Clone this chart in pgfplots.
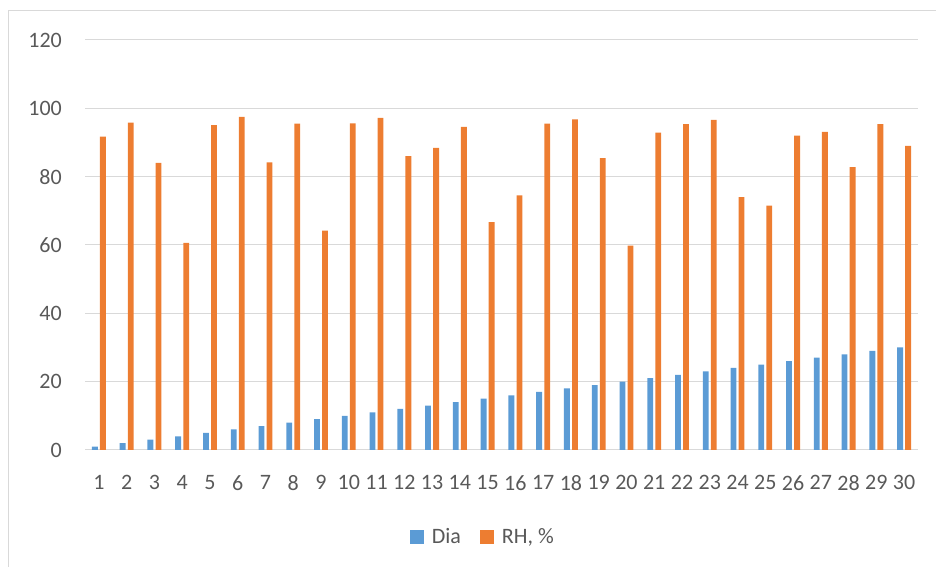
\documentclass[border=0pt]{standalone}
\usepackage{fontspec}
\setmainfont{Carlito}
\usepackage{pgfplots}
\usepackage{pgfplotstable}
\pgfplotsset{compat=1.18}

\definecolor{dia}{HTML}{5B9BD5}
\definecolor{rh}{HTML}{ED7D31}
\definecolor{gridc}{HTML}{D9D9D9}
\definecolor{txt}{HTML}{595959}

% day, Dia, RH %
\pgfplotstableread{
day dia rh
1  1  91.7
2  2  95.8
3  3  84.0
4  4  60.6
5  5  95.1
6  6  97.5
7  7  84.2
8  8  95.5
9  9  64.2
10 10 95.6
11 11 97.2
12 12 86.0
13 13 88.4
14 14 94.6
15 15 66.7
16 16 74.5
17 17 95.5
18 18 96.8
19 19 85.4
20 20 59.8
21 21 92.9
22 22 95.4
23 23 96.6
24 24 74.0
25 25 71.5
26 26 92.0
27 27 93.1
28 28 82.8
29 29 95.4
30 30 89.0
}\rhdata

\begin{document}
\begin{tikzpicture}[x=1bp,y=1bp]
\path[use as bounding box] (0,0) rectangle (936,567);
\draw[gridc, line width=1bp] (8.5,0) -- (8.5,556.5) -- (936,556.5);
\begin{axis}[
    at={(85bp,117bp)}, anchor=south west,
    scale only axis,
    width=833bp, height=410bp,
    xmin=0.5, xmax=30.5,
    ymin=0, ymax=120,
    xtick={1,...,30},
    ytick={0,20,...,120},
    ymajorgrids,
    grid style={gridc, line width=1bp},
    axis line style={draw=none},
    tick style={draw=none},
    /pgf/number format/assume math mode=true,
    tick label style={font=\fontsize{22bp}{26bp}\selectfont, text=txt, inner sep=0pt},
    yticklabel style={xshift=-23bp},
    xticklabel style={yshift=-25bp},
    legend style={at={(0.4775,-0.212)}, anchor=center, draw=none,
        font=\fontsize{22bp}{26bp}\selectfont, text=txt,
        legend columns=2,
        /tikz/every odd column/.append style={column sep=6bp},
        /tikz/every even column/.append style={column sep=17bp}},
    legend image code/.code={\fill[#1] (0bp,-7bp) rectangle (14bp,7bp);},
]
\addplot[ybar, bar width=0.21, bar shift=-0.145, fill=dia, draw=none]
    table[x=day, y=dia] {\rhdata};
\addlegendentry{Dia}
\addplot[ybar, bar width=0.21, bar shift=0.145, fill=rh, draw=none]
    table[x=day, y=rh] {\rhdata};
\addlegendentry{RH, \%}
\end{axis}
\end{tikzpicture}
\end{document}
